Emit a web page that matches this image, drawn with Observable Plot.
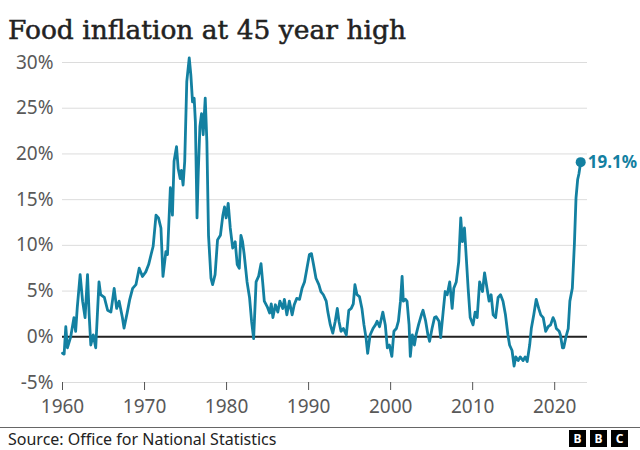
<!DOCTYPE html>
<html><head><meta charset="utf-8">
<script src="https://cdn.jsdelivr.net/npm/d3@7"></script>
<script src="https://cdn.jsdelivr.net/npm/@observablehq/plot@0.6"></script>
<style>
body{margin:0;background:#fff;width:640px;height:450px;position:relative;overflow:hidden;font-family:"Noto Sans",sans-serif}
#title{position:absolute;left:8px;top:12px;font-family:"DejaVu Serif",serif;font-size:26.5px;color:#222;white-space:nowrap;line-height:36px;-webkit-text-stroke:0.5px #222}
#chart{position:absolute;left:0;top:50px}
#footer{position:absolute;left:0;top:427px;width:640px;border-top:1px solid #666}
#source{position:absolute;left:8px;top:428px;font-size:16px;color:#222;line-height:22px}
#logo{position:absolute;left:569px;top:430px;display:flex;gap:4px}
#logo span{width:17px;height:17px;background:#000;color:#fff;font:bold 12px "Noto Sans",sans-serif;display:flex;align-items:center;justify-content:center}
</style></head>
<body>
<div id="title">Food inflation at 45 year high</div>
<div id="chart"></div>
<div id="footer"></div>
<div id="source">Source: Office for National Statistics</div>
<div id="logo"><span>B</span><span>B</span><span>C</span></div>
<script>
const years = [1960.0,1960.2,1960.4,1960.6,1961.0,1961.4,1961.6,1961.8,1962.15,1962.45,1962.75,1963.05,1963.25,1963.45,1963.75,1964.05,1964.45,1964.65,1965.1,1965.5,1965.9,1966.3,1966.6,1966.9,1967.3,1967.5,1967.9,1968.2,1968.55,1968.95,1969.35,1969.75,1970.15,1970.5,1970.8,1971.05,1971.4,1971.7,1972.0,1972.25,1972.6,1972.8,1973.15,1973.4,1973.6,1973.9,1974.1,1974.35,1974.5,1974.7,1974.9,1975.15,1975.45,1975.65,1975.85,1976.05,1976.2,1976.4,1976.55,1976.75,1976.95,1977.15,1977.4,1977.6,1977.8,1978.1,1978.3,1978.6,1978.9,1979.25,1979.55,1979.75,1979.95,1980.2,1980.45,1980.75,1981.05,1981.3,1981.55,1981.75,1981.95,1982.15,1982.5,1982.8,1983.05,1983.3,1983.6,1983.9,1984.2,1984.4,1984.6,1984.95,1985.25,1985.45,1985.65,1985.95,1986.25,1986.5,1986.85,1987.05,1987.35,1987.65,1988.0,1988.25,1988.55,1988.9,1989.2,1989.5,1989.8,1990.1,1990.35,1990.6,1990.9,1991.25,1991.5,1991.8,1992.15,1992.35,1992.65,1992.95,1993.25,1993.5,1993.7,1993.95,1994.25,1994.6,1994.9,1995.2,1995.45,1995.65,1995.9,1996.2,1996.5,1996.75,1997.0,1997.2,1997.5,1997.85,1998.15,1998.35,1998.65,1999.05,1999.35,1999.6,1999.85,2000.15,2000.4,2000.7,2000.95,2001.2,2001.4,2001.55,2001.8,2002.0,2002.25,2002.4,2002.65,2002.9,2003.1,2003.4,2003.75,2003.95,2004.25,2004.55,2004.75,2005.05,2005.35,2005.55,2005.9,2006.1,2006.4,2006.65,2006.9,2007.2,2007.5,2007.7,2008.0,2008.3,2008.55,2008.75,2009.0,2009.2,2009.45,2009.7,2010.05,2010.3,2010.55,2010.85,2011.2,2011.45,2011.75,2012.0,2012.25,2012.5,2012.8,2013.1,2013.4,2013.7,2014.0,2014.3,2014.5,2014.8,2015.05,2015.25,2015.55,2015.8,2016.15,2016.4,2016.65,2016.95,2017.15,2017.45,2017.75,2018.05,2018.3,2018.6,2018.9,2019.2,2019.5,2019.8,2020.0,2020.2,2020.55,2020.7,2020.95,2021.1,2021.35,2021.65,2021.85,2022.15,2022.4,2022.6,2022.8,2022.95,2023.17];
const foodInflation = [-1.8,-1.9,1.1,-1.2,0.0,2.1,0.6,3.2,6.8,3.9,2.1,6.8,2.4,-0.9,0.2,-1.2,6.0,4.6,4.3,2.9,2.7,5.3,3.1,3.9,2.1,0.95,2.7,4.1,5.3,5.7,7.5,6.6,7.1,7.9,9.0,9.9,13.3,13.0,11.9,6.6,9.3,9.0,16.3,13.3,19.2,20.8,18.4,17.3,18.2,16.6,19.2,27.9,30.5,28.6,25.7,26.1,23.5,13.0,18.0,23.0,24.4,22.1,26.1,21.3,11.1,6.4,5.7,6.8,10.6,11.1,13.3,14.2,13.0,14.6,11.9,9.7,10.4,7.9,7.5,11.1,10.4,9.0,6.0,4.3,1.7,-0.2,6.0,6.6,8.0,6.0,3.9,3.3,2.6,3.6,2.1,3.5,2.7,3.9,3.1,4.1,2.4,3.9,2.4,3.5,4.2,4.1,5.3,6.0,7.5,9.0,9.1,7.9,6.4,5.7,4.95,4.6,3.9,2.7,1.3,0.4,1.7,3.1,1.7,0.6,0.9,0.2,2.9,3.1,3.6,5.7,4.6,4.4,3.1,1.3,-0.1,-1.8,0.2,0.9,1.3,1.7,1.1,2.7,1.3,-1.2,-0.9,-2.15,0.6,0.9,1.7,3.9,6.6,3.9,4.1,3.9,1.3,-2.15,0.2,-0.9,0.2,1.3,2.4,2.9,1.8,0.2,-0.5,0.9,2.1,2.2,1.7,-0.1,2.7,4.95,4.6,6.0,3.1,5.3,6.0,8.2,13.0,10.4,11.9,9.0,5.3,2.1,1.3,2.7,2.1,6.0,4.95,7.0,5.3,3.9,4.6,2.4,2.1,4.3,4.6,3.9,2.4,0.2,-0.9,-1.5,-3.2,-2.2,-2.6,-2.2,-2.6,-2.2,-2.7,-0.9,0.9,2.4,4.1,3.1,2.4,2.1,0.6,1.1,1.3,2.1,1.7,0.9,0.6,0.2,-1.2,-1.2,-0.1,0.9,3.9,5.3,10.1,15.2,17.2,17.8,19.1];
const yTicks = [-5, 0, 5, 10, 15, 20, 25, 30];
const xTicks = [1960, 1970, 1980, 1990, 2000, 2010, 2020];

const data = years.map((y, i) => ({year: y, value: foodInflation[i]}));
const last = data[data.length - 1];
const teal = "#1380a1";

const chart = Plot.plot({
  width: 640, height: 375,
  marginLeft: 62, marginRight: 53, marginTop: 12, marginBottom: 43,
  style: {fontFamily: '"Noto Sans", sans-serif', fontSize: "19px", color: "#595959", background: "transparent", overflow: "visible"},
  x: {domain: [1960, 2024]},
  y: {domain: [-5, 30]},
  marks: [
    Plot.ruleY(yTicks, {stroke: "#dcdcdc", strokeWidth: 1}),
    Plot.ruleY([0], {stroke: "#222", strokeWidth: 2}),
    Plot.axisY({ticks: yTicks, tickSize: 0, tickPadding: 9, tickFormat: d => d + "%", label: null, fill: "#595959"}),
    Plot.axisX({ticks: xTicks, tickSize: 8, tickPadding: 9, tickFormat: d => String(d), label: null, stroke: "#555", fill: "#595959"}),
    Plot.line(data, {x: "year", y: "value", stroke: teal, strokeWidth: 2.8, strokeLinejoin: "round"}),
    Plot.dot([last], {x: "year", y: "value", r: 5, fill: teal}),
    Plot.text([last], {x: "year", y: "value", text: d => d.value + "%", dx: 7, textAnchor: "start", fill: teal, fontWeight: "bold", fontSize: 17})
  ]
});
document.getElementById("chart").appendChild(chart);
</script>
</body></html>
